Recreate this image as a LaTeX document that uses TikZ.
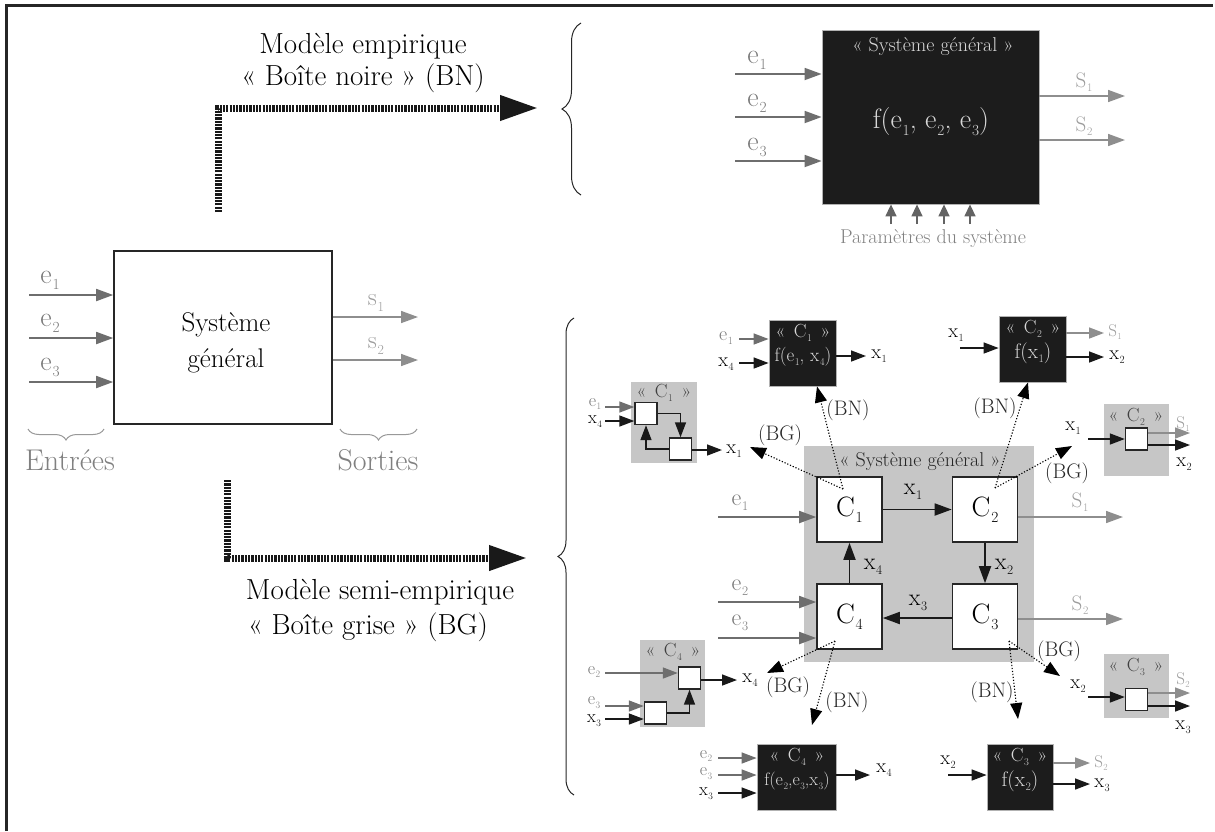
\documentclass[tikz,border=0pt]{standalone}
\usepackage{graphicx}
\usetikzlibrary{arrows.meta,decorations.pathreplacing}
\newcommand\fsz[1]{\fontsize{#1}{#1}\selectfont}
\newcommand\sbs[2]{#1\kern.03em\raisebox{-.5ex}{\scalebox{.55}{#2}}}
\newcommand\gq[1]{«\kern.45em#1\kern.45em»}
\definecolor{gin}{HTML}{6E6E6E}
\definecolor{gout}{HTML}{8E8E8E}
\definecolor{glabe}{HTML}{7A7A7A}
\definecolor{glabs}{HTML}{9C9C9C}
\definecolor{greg}{HTML}{C6C6C6}
\definecolor{bbox}{HTML}{1C1C1C}
\definecolor{btxt}{HTML}{D8D8D8}
\begin{document}
\begin{tikzpicture}[x=1pt,y=-1pt,
  ein/.style={draw=gin, line width=1.8pt, -{Triangle[length=17pt,width=12pt]}},
  sout/.style={draw=gout, line width=1.6pt, -{Triangle[length=17pt,width=12pt]}},
  xarr/.style={draw=black!90, line width=1.8pt, -{Triangle[length=17pt,width=12pt]}},
  sein/.style={draw=gin, line width=1.5pt, -{Triangle[length=15pt,width=11pt]}},
  ssout/.style={draw=gout, line width=1.5pt, -{Triangle[length=15pt,width=11pt]}},
  sxarr/.style={draw=black!90, line width=1.5pt, -{Triangle[length=15pt,width=11pt]}},
  parr/.style={draw=gin!90!black, line width=1.5pt, -{Triangle[length=12pt,width=11pt]}},
  dotarr/.style={draw=black, line width=1.1pt, dash pattern=on 1.2pt off 1.8pt, -{Triangle[length=16pt,width=12pt]}},
  bigarr/.style={draw=black!90, line width=7pt, dash pattern=on 2.2pt off 1.1pt, -{Triangle[length=38pt,width=24pt]}},
  brc/.style={draw=black!85, line width=1pt, decorate},
  ttl/.style={inner sep=0pt, font={\fsz{29}}},
  elab/.style={inner sep=0pt, text=glabe, font={\fsz{28}}},
  slab/.style={inner sep=0pt, text=glabs, font={\fsz{21}}},
  celab/.style={inner sep=0pt, text=glabe, font={\fsz{24}}},
  cxlab/.style={inner sep=0pt, text=black, font={\fsz{24}}},
  smelab/.style={inner sep=0pt, text=glabe, font={\fsz{20}}},
  smxlab/.style={inner sep=0pt, text=black, font={\fsz{20}}},
  smslab/.style={inner sep=0pt, text=glabs, font={\fsz{17}}},
  bglab/.style={inner sep=0pt, text=black!85, font={\fsz{21}}},
  boxttl/.style={inner sep=0pt, font={\fsz{19}}},
  blackbox/.style={fill=bbox, draw=gray!60, line width=.8pt, inner sep=0pt},
  greybox/.style={fill=greg, inner sep=0pt},
  cbox/.style={fill=white, draw=black!85, line width=1.6pt, inner sep=0pt, minimum width=65pt, minimum height=65pt, font={\fsz{28}}},
  sq/.style={fill=white, draw=black!85, line width=1.4pt, inner sep=0pt, minimum width=22pt, minimum height=22pt},
  btext/.style={inner sep=0pt, text=btxt, font={\fsz{19}}},
]
\useasboundingbox (0,0) rectangle (1215,831);
% frame
\draw[line width=3pt, black!85] (6.5,831) -- (6.5,5) -- (1213,5);

% ===== left: general system =====
\node[fill=white, draw=black!85, line width=1.6pt, minimum width=218pt, minimum height=173pt, inner sep=0pt] (sys) at (223,337.5) {};
\node[inner sep=0pt, align=center, font={\fontsize{27}{36}\selectfont}] (systxt) at (226,343) {Système\\général};
\coordinate (le1) at (29,295); \coordinate (le2) at (29,338); \coordinate (le3) at (29,382);
\draw[ein] (le1) -- (le1 -| sys.west);
\draw[ein] (le2) -- (le2 -| sys.west);
\draw[ein] (le3) -- (le3 -| sys.west);
\node[elab] (le1l) at (50,280) {\sbs{e}{1}};
\node[elab] (le2l) at (50,323) {\sbs{e}{2}};
\node[elab] (le3l) at (50,367) {\sbs{e}{3}};
\coordinate (ls1) at (418,317); \coordinate (ls2) at (418,360);
\draw[sout] (ls1 -| sys.east) -- (ls1);
\draw[sout] (ls2 -| sys.east) -- (ls2);
\node[slab, font={\fsz{25}}] (ls1l) at (376,303) {\sbs{s}{1}};
\node[slab, font={\fsz{25}}] (ls2l) at (376,346) {\sbs{s}{2}};
\draw[brc, draw=gray!80, decoration={brace, amplitude=11pt}] (104,429) -- (28,429);
\draw[brc, draw=gray!80, decoration={brace, amplitude=11pt}] (417,429) -- (340,429);
\node[ttl, text=gray, font={\fsz{30}}] (entr) at (70,460) {Entrées};
\node[ttl, text=gray, font={\fsz{30}}] (sort) at (378,460) {Sorties};

% ===== dashed arrows & titles =====
\coordinate (u0) at (218,212); \coordinate (u1) at (538,108);
\draw[bigarr] (u0) |- (u1);
\node[ttl] (t1) at (363,46) {Modèle empirique};
\node[ttl] (t2) at (363,78) {«~Boîte noire~» (BN)};
\coordinate (l0) at (227,480); \coordinate (l1) at (527,558);
\draw[bigarr] (l0) |- (l1);
\node[ttl] (t3) at (380,592) {Modèle semi-empirique};
\node[ttl] (t4) at (368,627) {«~Boîte grise~» (BG)};
\draw[brc, decoration={brace, amplitude=19pt}] (581,195) -- (581,23);
\draw[brc, decoration={brace, amplitude=16pt}] (574,795) -- (574,318);

% ===== top right black box =====
\node[blackbox, minimum width=217pt, minimum height=174pt] (bn) at (930.5,117) {};
\node[btext, font={\fsz{20}}] (bnt) at (933,47) {«~Système général~»};
\node[btext, font={\fsz{28}}] (bnf) at (931,122) {f(\sbs{e}{1}, \sbs{e}{2}, \sbs{e}{3})};
\coordinate (be1) at (735,74); \coordinate (be2) at (735,117); \coordinate (be3) at (735,161);
\draw[ein] (be1) -- (be1 -| bn.west);
\draw[ein] (be2) -- (be2 -| bn.west);
\draw[ein] (be3) -- (be3 -| bn.west);
\node[elab] (be1l) at (757,60) {\sbs{e}{1}};
\node[elab] (be2l) at (757,103) {\sbs{e}{2}};
\node[elab] (be3l) at (757,147) {\sbs{e}{3}};
\coordinate (bs1) at (1125,96); \coordinate (bs2) at (1125,140);
\draw[sout] (bs1 -| bn.east) -- (bs1);
\draw[sout] (bs2 -| bn.east) -- (bs2);
\node[slab] (bs1l) at (1084,82) {\sbs{S}{1}};
\node[slab] (bs2l) at (1084,126) {\sbs{S}{2}};
\foreach \i/\x in {1/891,2/917,3/944,4/970} {
  \coordinate (p\i) at (\x,224);
  \draw[parr] (p\i) -- (p\i |- bn.south);
}
\node[inner sep=0pt, text=gray, font={\fsz{20}}] (par) at (933,239) {Paramètres du système};

% ===== central grey box =====
\node[greybox, minimum width=230pt, minimum height=216pt] (gs) at (919,554) {};
\node[bglab, font={\fsz{20}}] (gst) at (920,462) {«~Système général~»};
\node[cbox] (c1) at (849.5,509.5) {\sbs{C}{1}};
\node[cbox] (c2) at (985,509.5) {\sbs{C}{2}};
\node[cbox] (c4) at (849.5,616.5) {\sbs{C}{4}};
\node[cbox] (c3) at (985,616.5) {\sbs{C}{3}};
\draw[xarr] (c1) -- (c2);
\draw[xarr] (c2) -- (c3);
\draw[xarr] (c3.west |- 0,618) -- (c4.east |- 0,618);
\draw[xarr] (c4) -- (c1);
\node[cxlab] (x1l) at (913,492) {\sbs{x}{1}};
\node[cxlab] (x2l) at (1004,567) {\sbs{x}{2}};
\node[cxlab] (x3l) at (918,603) {\sbs{x}{3}};
\node[cxlab] (x4l) at (873,567) {\sbs{x}{4}};
\coordinate (ce1) at (718,517); \coordinate (ce2) at (718,602); \coordinate (ce3) at (718,638);
\draw[ein] (ce1) -- (ce1 -| c1.west);
\draw[ein] (ce2) -- (ce2 -| c4.west);
\draw[ein] (ce3) -- (ce3 -| c4.west);
\node[celab] (ce1l) at (740,503) {\sbs{e}{1}};
\node[celab] (ce2l) at (740,588) {\sbs{e}{2}};
\node[celab] (ce3l) at (740,623) {\sbs{e}{3}};
\coordinate (cs1) at (1123,517); \coordinate (cs2) at (1123,619);
\draw[sout] (cs1 -| c2.east) -- (cs1);
\draw[sout] (cs2 -| c3.east) -- (cs2);
\node[slab] (cs1l) at (1080,502) {\sbs{S}{1}};
\node[slab] (cs2l) at (1080,605) {\sbs{S}{2}};

% ===== BN C1 =====
\node[blackbox, minimum width=67pt, minimum height=66pt] (bnc1) at (802.5,353) {};
\node[btext] (bnc1t) at (803,333) {\gq{\sbs{C}{1}}};
\node[btext] (bnc1f) at (803,357) {f(\sbs{e}{1}, \sbs{x}{4})};
\coordinate (bnc1a) at (739,339); \coordinate (bnc1b) at (739,363); \coordinate (bnc1o) at (866,356);
\draw[sein] (bnc1a) -- (bnc1a -| bnc1.west);
\draw[sxarr] (bnc1b) -- (bnc1b -| bnc1.west);
\draw[sxarr] (bnc1o -| bnc1.east) -- (bnc1o);
\node[smelab] (bnc1al) at (726,338) {\sbs{e}{1}};
\node[smxlab] (bnc1bl) at (726,364) {\sbs{x}{4}};
\node[smxlab] (bnc1ol) at (879,356) {\sbs{x}{1}};

% ===== BG C1 =====
\node[greybox, minimum width=66pt, minimum height=81pt] (bgc1) at (664,422.5) {};
\node[boxttl, text=black!75] (bgc1t) at (664,393) {\gq{\sbs{C}{1}}};
\node[sq] (bgc1a) at (646,413.5) {};
\node[sq] (bgc1b) at (680.5,449) {};
\draw[sxarr] (bgc1a.east) -| (bgc1b.north);
\draw[sxarr] (bgc1b.west) -| (bgc1a.south);
\coordinate (bgc1i) at (605,407); \coordinate (bgc1j) at (605,421); \coordinate (bgc1o) at (722,450);
\draw[sein] (bgc1i) -- (bgc1i -| bgc1a.west);
\draw[sxarr] (bgc1j) -- (bgc1j -| bgc1a.west);
\draw[sxarr] (bgc1o -| bgc1b.east) -- (bgc1o);
\node[smelab, font={\fsz{18}}] (bgc1il) at (595,404) {\sbs{e}{1}};
\node[smxlab, font={\fsz{18}}] (bgc1jl) at (595,422) {\sbs{x}{4}};
\node[smxlab] (bgc1ol) at (734,451) {\sbs{x}{1}};

% ===== BN C2 =====
\node[blackbox, minimum width=67pt, minimum height=66pt] (bnc2) at (1032.5,349) {};
\node[btext] (bnc2t) at (1033,329) {\gq{\sbs{C}{2}}};
\node[btext, font={\fsz{21}}] (bnc2f) at (1033,353) {f(\sbs{x}{1})};
\coordinate (bnc2i) at (960,348); \coordinate (bnc2s) at (1104,333); \coordinate (bnc2o) at (1104,357);
\draw[sxarr] (bnc2i) -- (bnc2i -| bnc2.west);
\draw[ssout] (bnc2s -| bnc2.east) -- (bnc2s);
\draw[sxarr] (bnc2o -| bnc2.east) -- (bnc2o);
\node[smxlab] (bnc2il) at (956,335) {\sbs{x}{1}};
\node[smslab] (bnc2sl) at (1115,332) {\sbs{S}{1}};
\node[smxlab] (bnc2ol) at (1117,357) {\sbs{x}{2}};

% ===== BG C2 =====
\node[greybox, minimum width=65pt, minimum height=72pt] (bgc2) at (1136.5,440) {};
\node[boxttl, text=black!75] (bgc2t) at (1136,417) {\gq{\sbs{C}{2}}};
\node[sq] (bgc2a) at (1136.5,439) {};
\coordinate (bgc2i) at (1088,439); \coordinate (bgc2s) at (1190,433); \coordinate (bgc2o) at (1190,445);
\draw[sxarr] (bgc2i) -- (bgc2i -| bgc2a.west);
\draw[ssout] (bgc2s -| bgc2a.east) -- (bgc2s);
\draw[sxarr] (bgc2o -| bgc2a.east) -- (bgc2o);
\node[smxlab] (bgc2il) at (1073,428) {\sbs{x}{1}};
\node[smslab] (bgc2sl) at (1183,424) {\sbs{S}{1}};
\node[smxlab] (bgc2ol) at (1184,464) {\sbs{x}{2}};

% ===== BG C4 =====
\node[greybox, minimum width=65pt, minimum height=87pt] (bgc4) at (672.5,683.5) {};
\node[boxttl, text=black!75] (bgc4t) at (673,652) {\gq{\sbs{C}{4}}};
\node[sq] (bgc4a) at (689.5,678) {};
\node[sq] (bgc4b) at (655.5,713) {};
\draw[sxarr] (bgc4b.east) -| (bgc4a.south);
\coordinate (bgc4i) at (605,673); \coordinate (bgc4j) at (605,706); \coordinate (bgc4k) at (605,719); \coordinate (bgc4o) at (737,680);
\draw[sein] (bgc4i) -- (bgc4i -| bgc4a.west);
\draw[sein] (bgc4j) -- (bgc4j -| bgc4b.west);
\draw[sxarr] (bgc4k) -- (bgc4k -| bgc4b.west);
\draw[sxarr] (bgc4o -| bgc4a.east) -- (bgc4o);
\node[smelab, font={\fsz{18}}] (bgc4il) at (594,672) {\sbs{e}{2}};
\node[smelab, font={\fsz{18}}] (bgc4jl) at (594,703) {\sbs{e}{3}};
\node[smxlab, font={\fsz{18}}] (bgc4kl) at (594,721) {\sbs{x}{3}};
\node[smxlab] (bgc4ol) at (750,680) {\sbs{x}{4}};

% ===== BN C4 =====
\node[blackbox, minimum width=79pt, minimum height=66pt] (bnc4) at (796.5,777) {};
\node[btext] (bnc4t) at (797,757) {\gq{\sbs{C}{4}}};
\node[btext, font={\fsz{18}}] (bnc4f) at (797,781) {f(\sbs{e}{2},\sbs{e}{3},\sbs{x}{3})};
\coordinate (bnc4i) at (718,758); \coordinate (bnc4j) at (718,775); \coordinate (bnc4k) at (718,793); \coordinate (bnc4o) at (870,775);
\draw[sein] (bnc4i) -- (bnc4i -| bnc4.west);
\draw[sein] (bnc4j) -- (bnc4j -| bnc4.west);
\draw[sxarr] (bnc4k) -- (bnc4k -| bnc4.west);
\draw[sxarr] (bnc4o -| bnc4.east) -- (bnc4o);
\node[smelab, font={\fsz{18}}] (bnc4il) at (706,756) {\sbs{e}{2}};
\node[smelab, font={\fsz{18}}] (bnc4jl) at (706,774) {\sbs{e}{3}};
\node[smxlab, font={\fsz{18}}] (bnc4kl) at (706,794) {\sbs{x}{3}};
\node[smxlab] (bnc4ol) at (884,770) {\sbs{x}{4}};

% ===== BN C3 =====
\node[blackbox, minimum width=66pt, minimum height=66pt] (bnc3) at (1020,777) {};
\node[btext] (bnc3t) at (1020,757) {\gq{\sbs{C}{3}}};
\node[btext, font={\fsz{21}}] (bnc3f) at (1020,781) {f(\sbs{x}{2})};
\coordinate (bnc3i) at (948,775); \coordinate (bnc3s) at (1090,763); \coordinate (bnc3o) at (1090,784);
\draw[sxarr] (bnc3i) -- (bnc3i -| bnc3.west);
\draw[ssout] (bnc3s -| bnc3.east) -- (bnc3s);
\draw[sxarr] (bnc3o -| bnc3.east) -- (bnc3o);
\node[smxlab] (bnc3il) at (948,762) {\sbs{x}{2}};
\node[smslab] (bnc3sl) at (1101,763) {\sbs{S}{2}};
\node[smxlab] (bnc3ol) at (1102,785) {\sbs{x}{3}};

% ===== BG C3 =====
\node[greybox, minimum width=65pt, minimum height=64pt] (bgc3) at (1136.5,686) {};
\node[boxttl, text=black!75] (bgc3t) at (1136,667) {\gq{\sbs{C}{3}}};
\node[sq] (bgc3a) at (1136.5,699.5) {};
\coordinate (bgc3i) at (1088,697); \coordinate (bgc3s) at (1190,693); \coordinate (bgc3o) at (1190,706);
\draw[sxarr] (bgc3i) -- (bgc3i -| bgc3a.west);
\draw[ssout] (bgc3s -| bgc3a.east) -- (bgc3s);
\draw[sxarr] (bgc3o -| bgc3a.east) -- (bgc3o);
\node[smxlab] (bgc3il) at (1078,686) {\sbs{x}{2}};
\node[smslab] (bgc3sl) at (1183,680) {\sbs{S}{2}};
\node[smxlab] (bgc3ol) at (1183,727) {\sbs{x}{3}};

% ===== dotted (BN)/(BG) arrows =====
\coordinate (c1d) at (843,489); \coordinate (c1g) at (750,447);
\coordinate (c2d) at (995,488); \coordinate (c2g) at (1072,446);
\coordinate (c4d) at (835,641); \coordinate (c4g) at (767,673); \coordinate (c4n) at (812,725);
\coordinate (c3d) at (1009,641); \coordinate (c3g) at (1060,676); \coordinate (c3n) at (1018,719);
\draw[dotarr] (c1d) -- ([xshift=14.5pt]bnc1.south);
\draw[dotarr] (c1d) -- (c1g);
\draw[dotarr] (c2d) -- ([xshift=-4.5pt]bnc2.south);
\draw[dotarr] (c2d) -- (c2g);
\draw[dotarr] (c4d) -- (c4g);
\draw[dotarr] (c4d) -- (c4n);
\draw[dotarr] (c3d) -- (c3g);
\draw[dotarr] (c3d) -- (c3n);
\node[bglab] (l1n) at (848,410) {(BN)};
\node[bglab] (l1g) at (780,435) {(BG)};
\node[bglab] (l2n) at (995,408) {(BN)};
\node[bglab] (l2g) at (1067,473) {(BG)};
\node[bglab] (l4g) at (788,687) {(BG)};
\node[bglab] (l4n) at (847,702) {(BN)};
\node[bglab] (l3g) at (1059,651) {(BG)};
\node[bglab] (l3n) at (992,692) {(BN)};
\end{tikzpicture}
\end{document}
